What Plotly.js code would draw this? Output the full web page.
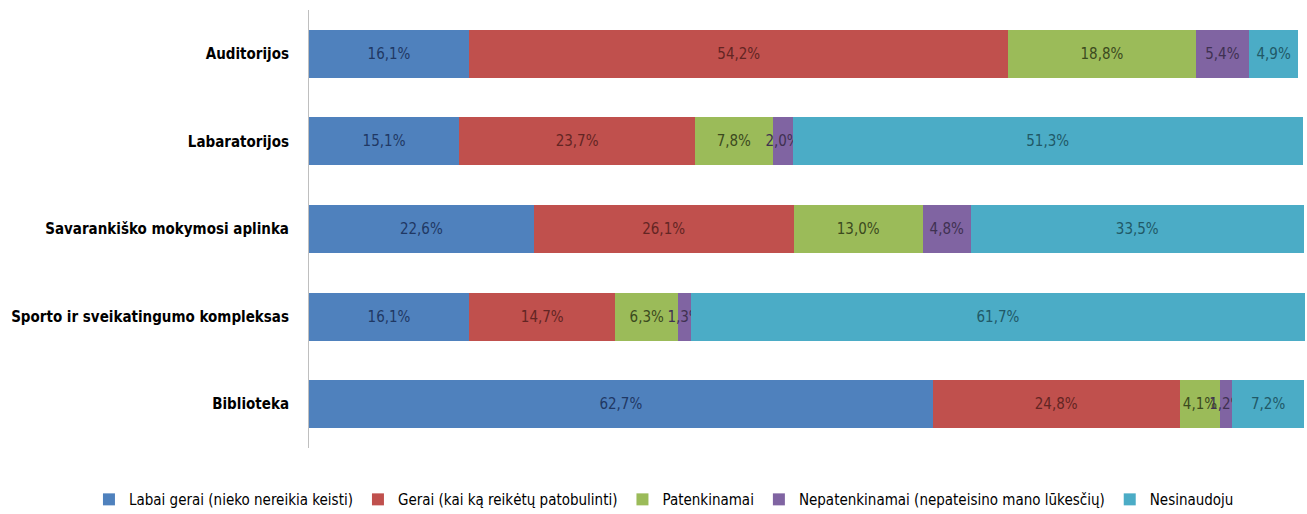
<!DOCTYPE html>
<html>
<head>
<meta charset="utf-8">
<script src="https://cdn.plot.ly/plotly-3.0.1.min.js"></script>
<style>
  body { margin: 0; background: #fff; }
  #plot { width: 1307px; height: 514px; }
</style>
</head>
<body>
<div id="plot"></div>
<script>
// kategorijos (iš viršaus į apačią)
var categories = ["Auditorijos", "Labaratorijos", "Savarankiško mokymosi aplinka",
  "Sporto ir sveikatingumo kompleksas", "Biblioteka"];

var labaiGerai = [16.1, 15.1, 22.6, 16.1, 62.7];
var gerai = [54.2, 23.7, 26.1, 14.7, 24.8];
var patenkinamai = [18.8, 7.8, 13.0, 6.3, 4.1];
var nepatenkinamai = [5.4, 2.0, 4.8, 1.3, 1.2];
var nesinaudoju = [4.9, 51.3, 33.5, 61.7, 7.2];

var seriesNames = ["Labai gerai (nieko nereikia keisti)", "Gerai (kai ką reikėtų patobulinti)",
  "Patenkinamai", "Nepatenkinamai (nepateisino mano lūkesčių)", "Nesinaudoju"];

var FONT = "'DejaVu Sans Condensed', 'Liberation Sans Narrow', sans-serif";

function makeTrace(vals, name, color, txtColor) {
  return {
    type: "bar",
    orientation: "h",
    x: vals,
    y: categories,
    name: name,
    marker: { color: color },
    texttemplate: "%{x:.1f}%",
    textposition: "inside",
    insidetextanchor: "middle",
    constraintext: "none",
    textangle: 0,
    textfont: { family: FONT, size: 15, color: txtColor },
    hoverinfo: "none"
  };
}

var data = [
  makeTrace(labaiGerai, seriesNames[0], "#4F81BD", "#1F3864"),
  makeTrace(gerai, seriesNames[1], "#C0504D", "#632523"),
  makeTrace(patenkinamai, seriesNames[2], "#9BBB59", "#3B4A1E"),
  makeTrace(nepatenkinamai, seriesNames[3], "#8064A2", "#3F3151"),
  makeTrace(nesinaudoju, seriesNames[4], "#4BACC6", "#215967")
];

var layout = {
  width: 1307,
  height: 514,
  barmode: "stack",
  bargap: 0.45,
  separators: ", ",
  font: { family: FONT, size: 15, color: "#000" },
  margin: { l: 2, r: 2, t: 10, b: 66 },
  paper_bgcolor: "#fff",
  plot_bgcolor: "#fff",
  xaxis: {
    domain: [0.2356, 1],
    range: [0, 100.1],
    showticklabels: false,
    showgrid: false,
    zeroline: false,
    showline: false,
    fixedrange: true
  },
  yaxis: {
    autorange: "reversed",
    showline: true,
    linecolor: "#BFBFBF",
    linewidth: 1,
    ticks: "",
    ticklabelstandoff: 16,
    tickfont: { family: FONT, size: 15, color: "#000", weight: "bold" },
    fixedrange: true
  },
  legend: {
    orientation: "h",
    traceorder: "normal",
    x: 0.508,
    xanchor: "center",
    xref: "container",
    y: 0.028,
    yref: "container",
    yanchor: "middle",
    font: { family: FONT, size: 15, color: "#000" },
    itemwidth: 30,
    tracegroupgap: 0
  },
  showlegend: true
};

Plotly.newPlot("plot", data, layout, { displayModeBar: false, staticPlot: true });
</script>
</body>
</html>
